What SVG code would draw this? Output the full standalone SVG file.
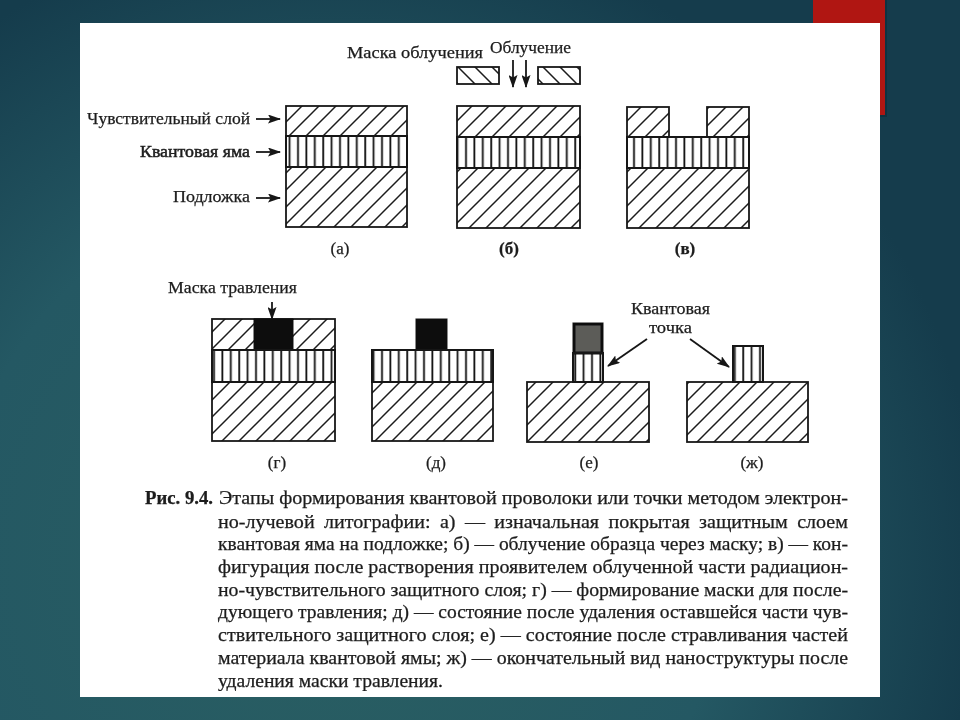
<svg xmlns="http://www.w3.org/2000/svg" width="960" height="720" viewBox="0 0 960 720">
<style>
text{font-family:"Liberation Serif","Times New Roman",serif;fill:#1c1c1c;stroke:#1c1c1c;stroke-width:.25}
.lb{font-size:17px}
.lc{font-size:17px;text-anchor:middle}
.cap{font-size:18.5px}
.j{word-spacing:4px}
.h{fill:url(#hatch);stroke:#151515;stroke-width:1.8}
.v{fill:url(#vert);stroke:#151515;stroke-width:2}
.m{fill:url(#mhatch);stroke:#151515;stroke-width:1.8}
.k{fill:#111;stroke:#111;stroke-width:1}
.a{fill:none;stroke:#151515;stroke-width:1.8}
</style>
<defs>
<radialGradient id="bg" gradientUnits="userSpaceOnUse" cx="340" cy="560" r="640">
<stop offset="0" stop-color="#2a5f62"/><stop offset=".6" stop-color="#245863"/><stop offset="1" stop-color="#153c4c"/>
</radialGradient>
<pattern id="hatch" patternUnits="userSpaceOnUse" width="17" height="17"><path d="M-2 19L19 -2" stroke="#1a1a1a" stroke-width="1.5"/><path d="M-2 2L2 -2M15 19L19 15" stroke="#1a1a1a" stroke-width="1.5"/></pattern>
<pattern id="mhatch" patternUnits="userSpaceOnUse" width="17" height="17"><path d="M-2 -2L19 19M15 -2L19 2M-2 15L2 19" stroke="#1a1a1a" stroke-width="1.5"/></pattern>
<pattern id="vert" patternUnits="userSpaceOnUse" width="8.4" height="20"><path d="M4 0V20" stroke="#111" stroke-width="1.8"/></pattern>
<marker id="ah" viewBox="0 0 13 9" refX="12" refY="4.5" markerWidth="13" markerHeight="9" markerUnits="userSpaceOnUse" orient="auto"><path d="M0 0L13 4.5L0 9L2.5 4.5Z" fill="#151515"/></marker>
<filter id="soft" x="0" y="0" width="1" height="1"><feGaussianBlur stdDeviation=".4"/></filter>
</defs>
<g id="background">
<rect width="960" height="720" fill="url(#bg)"/>
<rect x="815" y="0" width="72" height="117" fill="#0c2c3b" opacity=".6"/>
<rect x="813" y="0" width="72" height="115" fill="#b01612"/>
<rect x="80" y="23" width="800" height="674" fill="#fff"/>
</g>
<g filter="url(#soft)">
<g id="panel-a">
<rect class="h" x="286" y="106" width="121" height="30"/>
<rect class="v" x="286" y="136" width="121" height="31"/>
<rect class="h" x="286" y="167" width="121" height="60"/>
<text class="lc" x="340" y="254">(а)</text>
</g>
<g id="panel-b">
<rect class="m" x="457" y="67" width="42" height="17"/>
<rect class="m" x="538" y="67" width="42" height="17"/>
<rect class="h" x="457" y="106" width="123" height="31"/>
<rect class="v" x="457" y="137" width="123" height="31"/>
<rect class="h" x="457" y="168" width="123" height="60"/>
<text class="lc" x="509" y="254" font-weight="bold">(б)</text>
</g>
<g id="panel-v">
<rect class="h" x="627" y="107" width="42" height="30"/>
<rect class="h" x="707" y="107" width="42" height="30"/>
<rect class="v" x="627" y="137" width="122" height="31"/>
<rect class="h" x="627" y="168" width="122" height="60"/>
<text class="lc" x="685" y="254" font-weight="bold">(в)</text>
</g>
<g id="panel-g">
<rect class="h" x="212" y="319" width="123" height="31"/>
<rect class="k" x="254" y="319" width="39" height="31"/>
<rect class="v" x="212" y="350" width="123" height="32"/>
<rect class="h" x="212" y="382" width="123" height="59"/>
<text class="lc" x="277" y="468">(г)</text>
</g>
<g id="panel-d">
<rect class="k" x="416" y="319" width="31" height="31"/>
<rect class="v" x="372" y="350" width="121" height="32"/>
<rect class="h" x="372" y="382" width="121" height="59"/>
<text class="lc" x="436" y="468">(д)</text>
</g>
<g id="panel-e">
<rect x="574" y="324" width="28" height="29" fill="#5c5c58" stroke="#111" stroke-width="3"/>
<rect class="v" x="573" y="353" width="30" height="29"/>
<rect class="h" x="527" y="382" width="122" height="60"/>
<text class="lc" x="589" y="468">(е)</text>
</g>
<g id="panel-zh">
<rect class="v" x="733" y="346" width="30" height="36" stroke-width="1.4"/>
<rect class="h" x="687" y="382" width="121" height="60"/>
<text class="lc" x="752" y="468">(ж)</text>
</g>
<g id="labels">
<text id="label-sens" class="lb" x="87" y="124" textLength="163" lengthAdjust="spacingAndGlyphs">Чувствительный слой</text>
<text id="label-well" class="lb" x="140" y="157" textLength="110" lengthAdjust="spacingAndGlyphs" style="stroke-width:.5">Квантовая яма</text>
<text id="label-sub" class="lb" x="173" y="202" textLength="77" lengthAdjust="spacingAndGlyphs">Подложка</text>
<text id="label-mask" class="lb" x="347" y="58" textLength="136" lengthAdjust="spacingAndGlyphs">Маска облучения</text>
<text id="label-irr" class="lb" x="490" y="53" textLength="81" lengthAdjust="spacingAndGlyphs">Облучение</text>
<text id="label-etch" class="lb" x="168" y="293" textLength="129" lengthAdjust="spacingAndGlyphs">Маска травления</text>
<text id="label-qd1" class="lb" x="631" y="314" textLength="79" lengthAdjust="spacingAndGlyphs">Квантовая</text>
<text id="label-qd2" class="lb" x="649" y="333" textLength="43" lengthAdjust="spacingAndGlyphs">точка</text>
</g>
<g id="connectors">
<path class="a" marker-end="url(#ah)" d="M256 119H280"/>
<path class="a" marker-end="url(#ah)" d="M256 152H280"/>
<path class="a" marker-end="url(#ah)" d="M256 198H280"/>
<path class="a" marker-end="url(#ah)" d="M513 60V87"/>
<path class="a" marker-end="url(#ah)" d="M526 60V87"/>
<path class="a" marker-end="url(#ah)" d="M272 302V319"/>
<path class="a" marker-end="url(#ah)" d="M647 339L608 366"/>
<path class="a" marker-end="url(#ah)" d="M690 339L729 367"/>
</g>
<g id="caption">
<text class="cap" x="145" y="504" textLength="68" lengthAdjust="spacingAndGlyphs" font-weight="bold">Рис. 9.4.</text>
<text class="cap" x="219" y="504" textLength="629" lengthAdjust="spacingAndGlyphs">Этапы формирования квантовой проволоки или точки методом электрон-</text>
<text class="cap j" x="218" y="528" textLength="630" lengthAdjust="spacingAndGlyphs">но-лучевой литографии: а) — изначальная покрытая защитным слоем</text>
<text class="cap" x="218" y="550" textLength="630" lengthAdjust="spacingAndGlyphs">квантовая яма на подложке; б) — облучение образца через маску; в) — кон-</text>
<text class="cap" x="218" y="573" textLength="630" lengthAdjust="spacingAndGlyphs">фигурация после растворения проявителем облученной части радиацион-</text>
<text class="cap" x="218" y="596" textLength="630" lengthAdjust="spacingAndGlyphs">но-чувствительного защитного слоя; г) — формирование маски для после-</text>
<text class="cap" x="218" y="618" textLength="630" lengthAdjust="spacingAndGlyphs">дующего травления; д) — состояние после удаления оставшейся части чув-</text>
<text class="cap" x="218" y="641" textLength="630" lengthAdjust="spacingAndGlyphs">ствительного защитного слоя; е) — состояние после стравливания частей</text>
<text class="cap" x="218" y="664" textLength="630" lengthAdjust="spacingAndGlyphs">материала квантовой ямы; ж) — окончательный вид наноструктуры после</text>
<text class="cap" x="218" y="687" textLength="225" lengthAdjust="spacingAndGlyphs">удаления маски травления.</text>
</g>
</g>
</svg>
